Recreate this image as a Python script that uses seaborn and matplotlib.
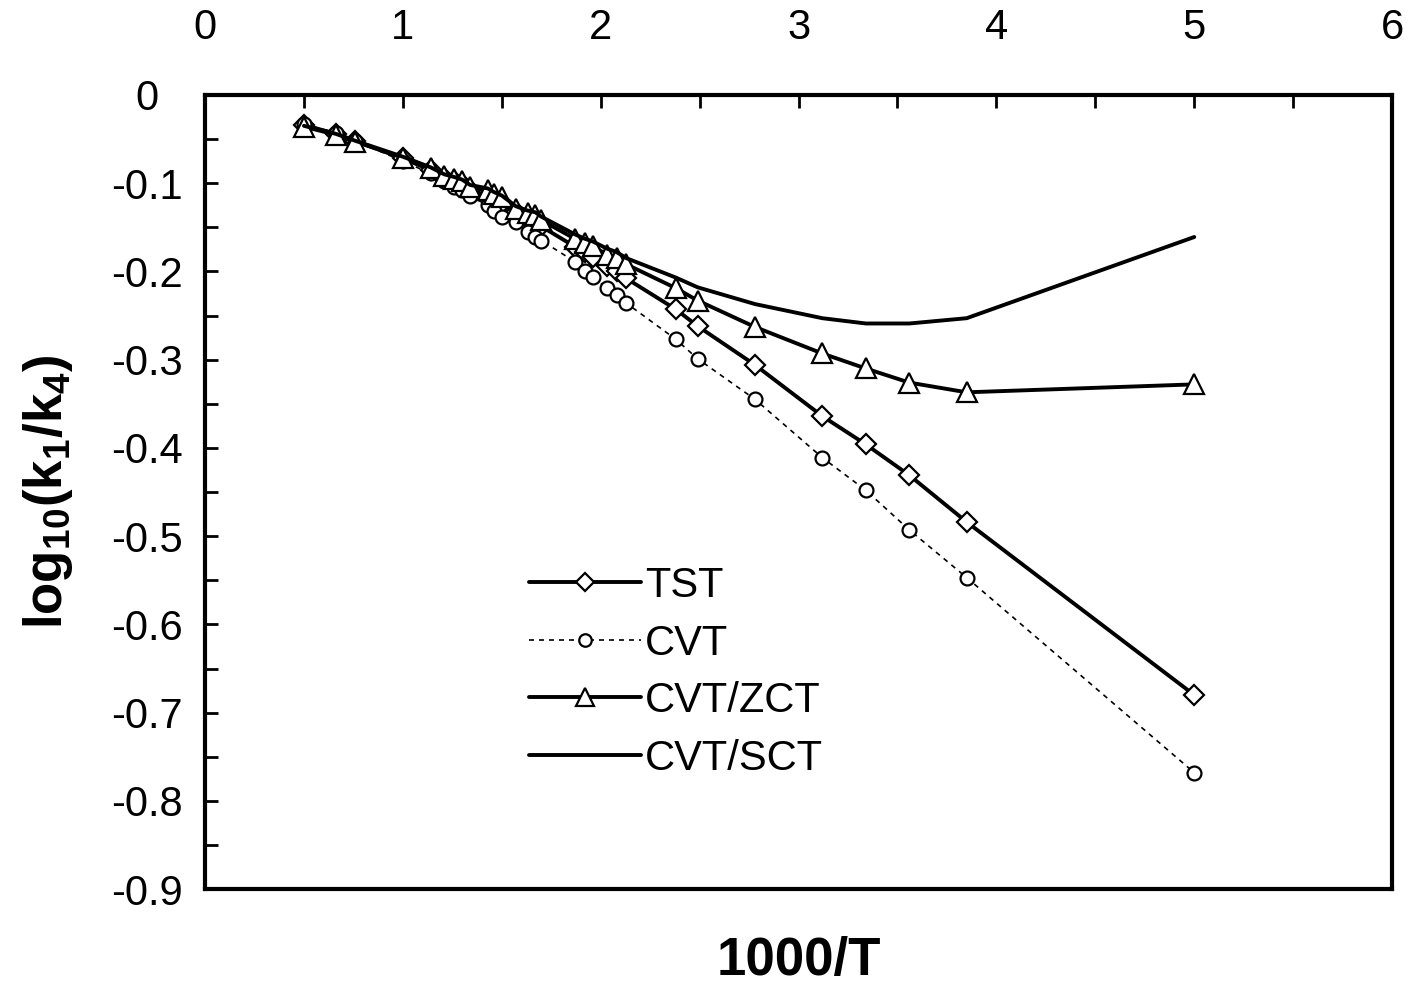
import numpy as np
import matplotlib
matplotlib.use("Agg")
import matplotlib.pyplot as plt
import seaborn as sns
from matplotlib.ticker import MultipleLocator

# 1000/T values (shared by all series)
x_inv_t = [0.50, 0.66, 0.76, 1.00, 1.14, 1.21, 1.26, 1.30, 1.34, 1.43,
           1.46, 1.50, 1.57, 1.63, 1.67, 1.70, 1.87, 1.92, 1.96, 2.03,
           2.08, 2.13, 2.38, 2.49, 2.78, 3.12, 3.34, 3.56, 3.85, 5.00]

tst = [-0.034, -0.044, -0.052, -0.072, -0.085, -0.094, -0.098, -0.101, -0.108, -0.114,
       -0.118, -0.123, -0.133, -0.140, -0.144, -0.149, -0.172, -0.178, -0.184, -0.194,
       -0.199, -0.208, -0.243, -0.262, -0.306, -0.364, -0.396, -0.431, -0.484, -0.680]

cvt = [-0.033, -0.043, -0.052, -0.075, -0.089, -0.098, -0.104, -0.108, -0.115, -0.125,
       -0.131, -0.138, -0.144, -0.155, -0.161, -0.165, -0.189, -0.199, -0.206, -0.219,
       -0.227, -0.236, -0.277, -0.299, -0.345, -0.411, -0.448, -0.493, -0.547, -0.768]

cvt_zct = [-0.036, -0.045, -0.053, -0.071, -0.083, -0.092, -0.095, -0.098, -0.104, -0.108,
           -0.112, -0.116, -0.129, -0.134, -0.136, -0.142, -0.163, -0.168, -0.171, -0.181,
           -0.185, -0.192, -0.219, -0.233, -0.263, -0.293, -0.310, -0.326, -0.337, -0.328]

cvt_sct = [-0.035, -0.044, -0.052, -0.070, -0.082, -0.090, -0.093, -0.096, -0.102, -0.106,
           -0.110, -0.114, -0.126, -0.131, -0.133, -0.138, -0.158, -0.163, -0.166, -0.174,
           -0.178, -0.185, -0.207, -0.218, -0.237, -0.253, -0.259, -0.259, -0.253, -0.161]

y_ticks = [0, -0.1, -0.2, -0.3, -0.4, -0.5, -0.6, -0.7, -0.8, -0.9]
x_ticks = [0, 1, 2, 3, 4, 5, 6]

sns.set_style("ticks")
plt.rcParams['font.family'] = ['Liberation Sans', 'DejaVu Sans']
plt.rcParams['mathtext.fontset'] = 'custom'
plt.rcParams['mathtext.rm'] = 'Liberation Sans'
plt.rcParams['mathtext.bf'] = 'Liberation Sans:bold'
plt.rcParams['axes.unicode_minus'] = False

fig = plt.figure(figsize=(14.09, 9.89), dpi=100)
ax = fig.add_axes([0.1455, 0.101, 0.8425, 0.803])

common = dict(ax=ax, sort=False, estimator=None, color='black',
              markerfacecolor='white', markeredgecolor='black')

sns.lineplot(x=x_inv_t, y=tst, marker='D', markersize=10.5, markeredgewidth=1.6,
             linewidth=2.8, label='TST', **common)
sns.lineplot(x=x_inv_t, y=cvt, marker='o', markersize=10, markeredgewidth=1.6,
             linewidth=1.2, linestyle=(0, (3, 3)), label='CVT', **common)
sns.lineplot(x=x_inv_t, y=cvt_zct, marker='^', markersize=14, markeredgewidth=1.6,
             linewidth=2.8, label='CVT/ZCT', **common)
sns.lineplot(x=x_inv_t, y=cvt_sct, linewidth=2.8, label='CVT/SCT', ax=ax,
             sort=False, estimator=None, color='black')

ax.set_xlim(0, 6)
ax.set_ylim(-0.9, 0)

ax.xaxis.tick_top()
ax.set_xticks(x_ticks)
ax.set_xticklabels([str(v) for v in x_ticks])
ax.xaxis.set_minor_locator(MultipleLocator(0.5))
ax.set_yticks(y_ticks)
ax.set_yticklabels(['0'] + [f"{v:.1f}" for v in y_ticks[1:]])
ax.yaxis.set_minor_locator(MultipleLocator(0.05))

ax.tick_params(axis='both', which='both', direction='in', length=9, width=2,
               labelsize=30, color='black', labelcolor='black')
ax.tick_params(axis='x', which='both', top=True, bottom=False, pad=34)
ax.tick_params(axis='y', which='both', left=True, right=False, pad=42)
for lab in ax.get_yticklabels():
    lab.set_horizontalalignment('center')

for sp in ax.spines.values():
    sp.set_visible(True)
    sp.set_linewidth(3)
    sp.set_color('black')

ax.set_xlabel('1000/T', fontsize=38, fontweight='bold', labelpad=34, color='black')
ax.xaxis.set_label_position('bottom')
ax.set_ylabel(r'$\mathbf{log_{10}(k_1/k_4)}$', fontsize=38, labelpad=26, color='black')

ax.legend(loc='upper left', bbox_to_anchor=(0.255, 0.433), frameon=False,
          fontsize=30, handlelength=2.7, handletextpad=0.1, labelspacing=0.42,
          markerscale=0.9, borderpad=0, labelcolor='black')

fig.savefig('out.png', dpi=100, facecolor='white')
